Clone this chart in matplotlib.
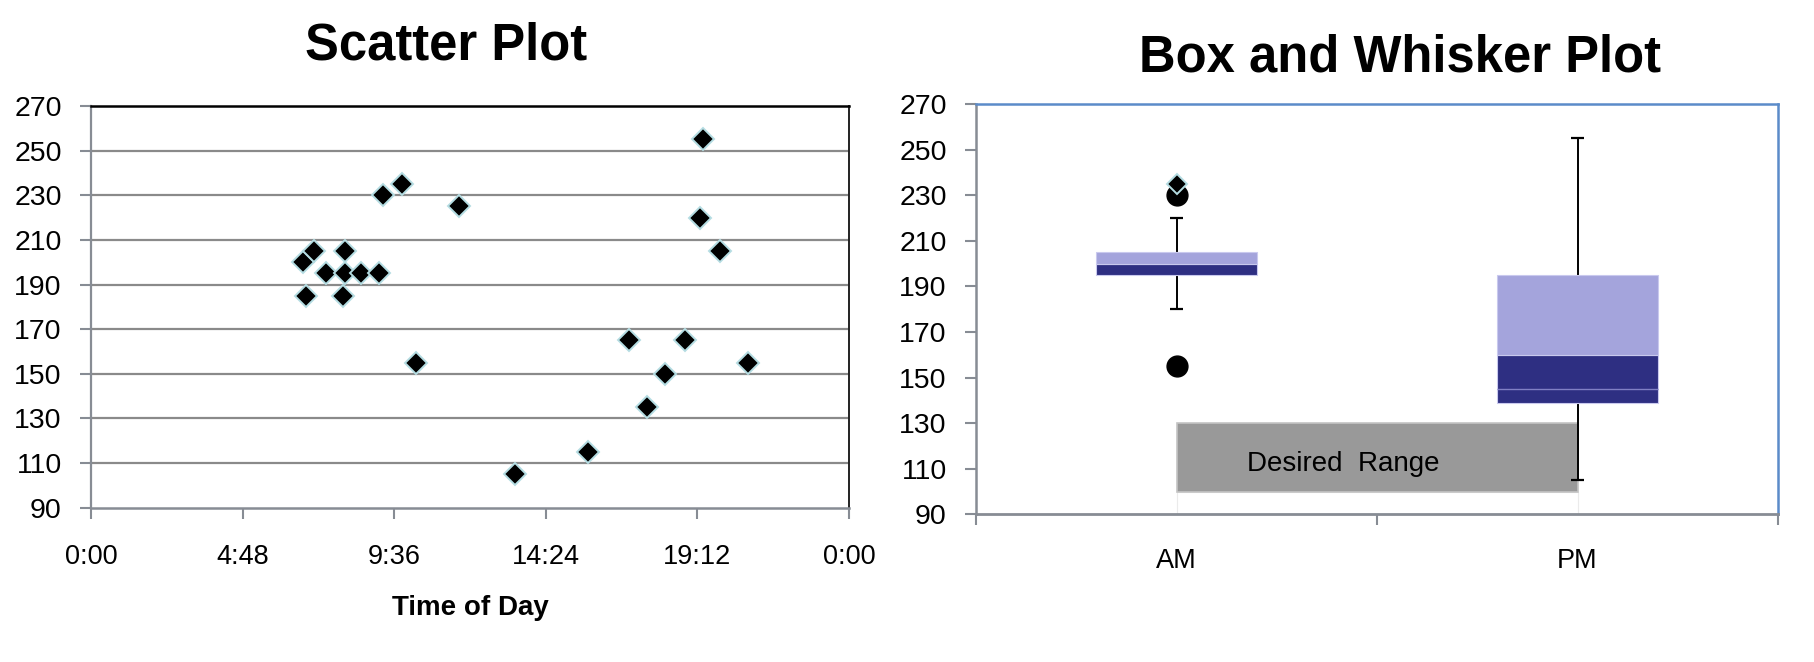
import matplotlib.pyplot as plt

plt.rcParams["font.family"] = ["Liberation Sans", "DejaVu Sans"]

# scatter data: time of day (hours) and reading
scatter_hours = [6.72, 6.80, 7.07, 7.43, 8.05, 8.05, 7.98, 8.55, 9.12, 9.26, 9.86, 10.29, 11.66,
                 13.42, 15.74, 17.03, 17.61, 18.18, 18.82, 19.27, 19.39, 19.92, 20.80]
scatter_values = [200, 185, 205, 195, 205, 195, 185, 195, 195, 230, 235, 155, 225,
                  105, 115, 165, 135, 150, 165, 220, 255, 205, 155]
time_ticks = [0, 4.8, 9.6, 14.4, 19.2, 24]
time_labels = ["0:00", "4:48", "9:36", "14:24", "19:12", "0:00"]
y_ticks = [90, 110, 130, 150, 170, 190, 210, 230, 250, 270]

# box and whisker data
groups = ["AM", "PM"]
q1 = [195, 138.75]
median = [200, 160]
q3 = [205, 195]
whisker_low = [180, 105]
whisker_high = [220, 255]
pm_inner_line = 145
am_outliers = [230, 155]
am_extra_point = [235]
desired_low, desired_high = 100, 130

DARK = "#2E2F82"
LIGHT = "#A4A4DC"
GRID = "#8A8A8A"
AXIS_GRAY = "#878C94"
BORDER_BLUE = "#5B8BC9"
MARKER_EDGE = "#B4DCE2"

fig = plt.figure(figsize=(18.14, 6.62), dpi=100)
fig.patch.set_facecolor("white")

# ---------------- scatter plot ----------------
ax1 = fig.add_axes([0.05017, 0.23308, 0.41786, 0.6068])
ax1.plot(scatter_hours, scatter_values, linestyle="None", marker="D", markersize=11,
         markerfacecolor="black", markeredgecolor=MARKER_EDGE, markeredgewidth=1.4,
         zorder=3, clip_on=False)
ax1.set_xlim(0, 24)
ax1.set_ylim(90, 270)
ax1.set_xticks(time_ticks)
ax1.set_xticklabels(time_labels)
ax1.set_yticks(y_ticks)
for y in y_ticks[1:-1]:
    ax1.axhline(y, color=GRID, linewidth=1.6, zorder=1)
ax1.tick_params(axis="both", labelsize=19.5, length=8, width=1.5, color=AXIS_GRAY, direction="out")
ax1.tick_params(axis="y", labelsize=20.5, pad=13)
ax1.tick_params(axis="x", pad=18)
ax1.spines["left"].set_color(AXIS_GRAY)
ax1.spines["bottom"].set_color(AXIS_GRAY)
ax1.spines["left"].set_linewidth(1.6)
ax1.spines["bottom"].set_linewidth(1.8)
ax1.spines["top"].set_color("black")
ax1.spines["top"].set_linewidth(1.8)
ax1.spines["right"].set_color("#222222")
ax1.spines["right"].set_linewidth(1.4)

fig.text(446 / 1814, 1 - 60 / 662, "Scatter Plot", fontsize=36.5, fontweight="bold",
         ha="center", va="baseline")
fig.text(470 / 1814, 1 - 615 / 662, "Time of Day", fontsize=20, fontweight="bold",
         ha="center", va="baseline")

# ---------------- box and whisker plot ----------------
ax2 = fig.add_axes([0.53804, 0.22311, 0.44212, 0.6198])
pos = [0.5, 1.5]

# desired range band (white base below it, grey band on top)
ax2.bar(1.0, desired_low - 90, bottom=90, width=1.0, color="white", edgecolor="#EBEBEB",
        linewidth=0.8, zorder=1)
ax2.bar(1.0, desired_high - desired_low, bottom=desired_low, width=1.0, color="#999999",
        edgecolor="#C4C4C4", linewidth=1.2, zorder=1)
ax2.text(0.917, 109, "Desired  Range", fontsize=20, ha="center", va="baseline", zorder=2)

# whiskers
ax2.vlines(pos, whisker_low, whisker_high, color="black", linewidth=1.4, zorder=2)
ax2.hlines(whisker_low, [p - 0.016 for p in pos], [p + 0.016 for p in pos],
           color="black", linewidth=1.6, zorder=2)
ax2.hlines(whisker_high, [p - 0.016 for p in pos], [p + 0.016 for p in pos],
           color="black", linewidth=1.6, zorder=2)

# boxes
lower = [m - a for m, a in zip(median, q1)]
upper = [b - m for b, m in zip(q3, median)]
ax2.bar(pos, lower, bottom=q1, width=0.4, color=DARK, edgecolor="#C9C9EE", linewidth=0.8, zorder=3)
ax2.bar(pos, upper, bottom=median, width=0.4, color=LIGHT, edgecolor="#C9C9EE", linewidth=0.8, zorder=3)
ax2.hlines(pm_inner_line, pos[1] - 0.2, pos[1] + 0.2, color="#8080C4", linewidth=1.0, zorder=4)

# AM outliers
ax2.plot([pos[0]] * len(am_outliers), am_outliers, linestyle="None", marker="o",
         markersize=15, color="black", zorder=4)
ax2.plot([pos[0]] * len(am_extra_point), am_extra_point, linestyle="None", marker="D",
         markersize=10.5, markerfacecolor="black", markeredgecolor=MARKER_EDGE,
         markeredgewidth=1.4, zorder=5)

ax2.set_xlim(0, 2)
ax2.set_ylim(90, 270)
ax2.set_yticks(y_ticks)
ax2.set_xticks([0, 1, 2])
ax2.set_xticklabels([])
ax2.set_xticks(pos, minor=True)
ax2.set_xticklabels(groups, minor=True)
ax2.tick_params(axis="x", which="minor", length=0, labelsize=19.5, pad=24)
ax2.tick_params(axis="x", which="major", length=8, width=1.5, color=AXIS_GRAY)
ax2.tick_params(axis="y", labelsize=20.5, length=8, width=1.5, color=AXIS_GRAY, pad=13)
ax2.spines["left"].set_color(AXIS_GRAY)
ax2.spines["bottom"].set_color(AXIS_GRAY)
ax2.spines["left"].set_linewidth(1.8)
ax2.spines["bottom"].set_linewidth(2.0)
ax2.spines["top"].set_color(BORDER_BLUE)
ax2.spines["right"].set_color(BORDER_BLUE)
ax2.spines["top"].set_linewidth(1.8)
ax2.spines["right"].set_linewidth(1.8)

fig.text(1400 / 1814, 1 - 72 / 662, "Box and Whisker Plot", fontsize=36.5, fontweight="bold",
         ha="center", va="baseline")

fig.savefig("out.png", dpi=100, facecolor="white")
